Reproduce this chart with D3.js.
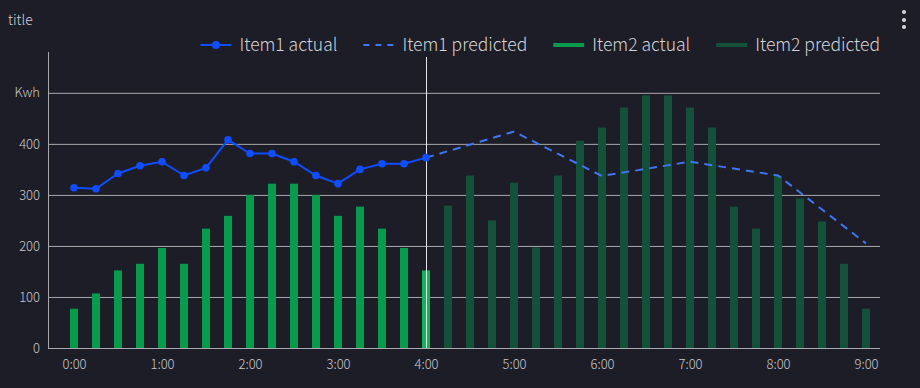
<!DOCTYPE html>
<html>
<head>
<meta charset="utf-8">
<script src="https://cdn.jsdelivr.net/npm/d3@7"></script>
<style>
  html, body { margin: 0; padding: 0; background: #1d1d27; }
  svg { display: block; font-family: "Noto Sans CJK JP", "Noto Sans", sans-serif; font-weight: 300; }
</style>
</head>
<body>
<svg id="chart" width="920" height="388"></svg>
<script>
// Time slots, every 15 minutes from 0:00 to 9:00.
const slots = [];
for (let h = 0; h <= 9; h++) {
    for (let m = 0; m < 60; m += 15) {
        if (h === 9 && m > 0) break;
        slots.push(h + ":" + (m === 0 ? "00" : m));
    }
}
const hourLabels = ["0:00", "1:00", "2:00", "3:00", "4:00", "5:00", "6:00", "7:00", "8:00", "9:00"];

// Item1 actual (0:00 - 4:00)
const item1Actual = [314, 312, 342, 357, 365, 338, 353, 408, 381, 381, 365, 338, 322, 350, 361, 361, 373];
// Item1 predicted, hourly points from 4:00
const item1PredSlots = ["4:00", "5:00", "6:00", "7:00", "8:00", "9:00"];
const item1Pred = [373, 424, 337, 365, 338, 205];
// Item2 actual (0:00 - 4:00)
const item2Actual = [77, 107, 152, 165, 196, 165, 234, 259, 300, 322, 322, 300, 259, 277, 234, 196, 152];
// Item2 predicted (4:15 - 9:00)
const item2Pred = [279, 338, 250, 324, 197, 338, 406, 432, 471, 495, 495, 471, 432, 277, 234, 338, 293, 248, 165, 77];

const yTicks = [0, 100, 200, 300, 400, 500];
const yTickLabels = ["0", "100", "200", "300", "400", "Kwh"];
const nowSlot = "4:00";

const legendItems = [
    {name: "Item1 actual", kind: "marker", color: "#0f4dff"},
    {name: "Item1 predicted", kind: "dash", color: "#3f76f2"},
    {name: "Item2 actual", kind: "bar", color: "#089a4d"},
    {name: "Item2 predicted", kind: "bar", color: "#14503a"}
];

const svg = d3.select("#chart");
const plot = {left: 48, right: 880, top: 52, bottom: 348};

const x = d3.scalePoint().domain(slots).range([plot.left + 26, plot.right - 14]);
const y = d3.scaleLinear().domain([0, 580]).range([plot.bottom, plot.top]);

// Title and menu dots
svg.append("text")
    .attr("x", 8).attr("y", 25)
    .attr("fill", "#d0d0d4")
    .attr("font-size", 14)
    .text("title");

svg.selectAll(".dot")
    .data([12, 20, 27])
    .enter().append("circle")
    .attr("cx", 904).attr("cy", d => d).attr("r", 2)
    .attr("fill", "#d8d8dc");

// Grid lines
svg.append("g")
    .selectAll("line")
    .data(yTicks.filter(d => d > 0))
    .enter().append("line")
    .attr("x1", plot.left).attr("x2", plot.right)
    .attr("y1", d => y(d) + 0.5).attr("y2", d => y(d) + 0.5)
    .attr("stroke", "#a9a9ad")
    .attr("stroke-width", 1);

// Y axis
const yAxis = svg.append("g")
    .attr("transform", "translate(" + plot.left + ",0)")
    .call(d3.axisLeft(y).tickValues(yTicks).tickSize(0).tickPadding(8)
        .tickFormat((d, i) => yTickLabels[i]));
yAxis.select(".domain").remove();
yAxis.selectAll("text").attr("fill", "#c8c8cc").attr("font-size", 13)
    .attr("font-family", "\"Noto Sans CJK JP\", sans-serif");

// X axis
const xAxis = svg.append("g")
    .attr("transform", "translate(0," + plot.bottom + ")")
    .call(d3.axisBottom(x).tickValues(hourLabels).tickSize(0).tickPadding(12));
xAxis.select(".domain").remove();
xAxis.selectAll("text").attr("fill", "#c8c8cc").attr("font-size", 13)
    .attr("font-family", "\"Noto Sans CJK JP\", sans-serif");

const barW = 8;

// Item2 actual bars
svg.append("g")
    .selectAll("rect")
    .data(item2Actual)
    .enter().append("rect")
    .attr("x", (d, i) => x(slots[i]) - barW / 2)
    .attr("y", d => y(d))
    .attr("width", barW)
    .attr("height", d => y(0) - y(d))
    .attr("fill", (d, i) => slots[i] === nowSlot ? "#10b55a" : "#089a4d");

// Item2 predicted bars
const predOffset = slots.length - item2Pred.length;
svg.append("g")
    .selectAll("rect")
    .data(item2Pred)
    .enter().append("rect")
    .attr("x", (d, i) => x(slots[i + predOffset]) - barW / 2)
    .attr("y", d => y(d))
    .attr("width", barW)
    .attr("height", d => y(0) - y(d))
    .attr("fill", "#14503a");

// Axis lines
svg.append("line")
    .attr("x1", plot.left + 0.5).attr("x2", plot.left + 0.5)
    .attr("y1", plot.top).attr("y2", plot.bottom + 1)
    .attr("stroke", "#a9a9ad");
svg.append("line")
    .attr("x1", plot.left).attr("x2", plot.right)
    .attr("y1", plot.bottom + 0.5).attr("y2", plot.bottom + 0.5)
    .attr("stroke", "#a9a9ad");

// "Now" marker line
svg.append("line")
    .attr("x1", x(nowSlot) + 0.5).attr("x2", x(nowSlot) + 0.5)
    .attr("y1", 57).attr("y2", plot.bottom)
    .attr("stroke", "#e6e6ea")
    .attr("stroke-width", 1);

const line = d3.line().x(d => x(d.slot)).y(d => y(d.value));

// Item1 predicted dashed line
const predData = item1Pred.map((v, i) => ({slot: item1PredSlots[i], value: v}));
svg.append("path")
    .datum(predData)
    .attr("d", line)
    .attr("fill", "none")
    .attr("stroke", "#3f76f2")
    .attr("stroke-width", 2)
    .attr("stroke-dasharray", "8,6");

// Item1 actual line with markers
const actData = item1Actual.map((v, i) => ({slot: slots[i], value: v}));
svg.append("path")
    .datum(actData)
    .attr("d", line)
    .attr("fill", "none")
    .attr("stroke", "#0f4dff")
    .attr("stroke-width", 2);
svg.append("g")
    .selectAll("circle")
    .data(actData)
    .enter().append("circle")
    .attr("cx", d => x(d.slot))
    .attr("cy", d => y(d.value))
    .attr("r", 3.8)
    .attr("fill", "#0f4dff");

// Legend, right aligned to plot edge
const legend = svg.append("g");
let cursor = plot.right;
const legendY = 45;
for (let i = legendItems.length - 1; i >= 0; i--) {
    const item = legendItems[i];
    const g = legend.append("g");
    const t = g.append("text")
        .attr("y", legendY + 6)
        .attr("fill", "#d4d4d8")
        .attr("font-size", 17.5)
        .text(item.name);
    const tw = t.node().getComputedTextLength();
    const textX = cursor - tw;
    t.attr("x", textX);
    const symEnd = textX - 8;
    const symStart = symEnd - 31;
    if (item.kind === "marker") {
        g.append("line")
            .attr("x1", symStart).attr("x2", symEnd)
            .attr("y1", legendY).attr("y2", legendY)
            .attr("stroke", item.color).attr("stroke-width", 2);
        g.append("circle")
            .attr("cx", (symStart + symEnd) / 2).attr("cy", legendY).attr("r", 4)
            .attr("fill", item.color);
    } else if (item.kind === "dash") {
        g.append("line")
            .attr("x1", symStart).attr("x2", symEnd)
            .attr("y1", legendY).attr("y2", legendY)
            .attr("stroke", item.color).attr("stroke-width", 2)
            .attr("stroke-dasharray", "6,6");
    } else {
        g.append("line")
            .attr("x1", symStart).attr("x2", symEnd)
            .attr("y1", legendY).attr("y2", legendY)
            .attr("stroke", item.color).attr("stroke-width", 4);
    }
    cursor = symStart - 26;
}
</script>
</body>
</html>
